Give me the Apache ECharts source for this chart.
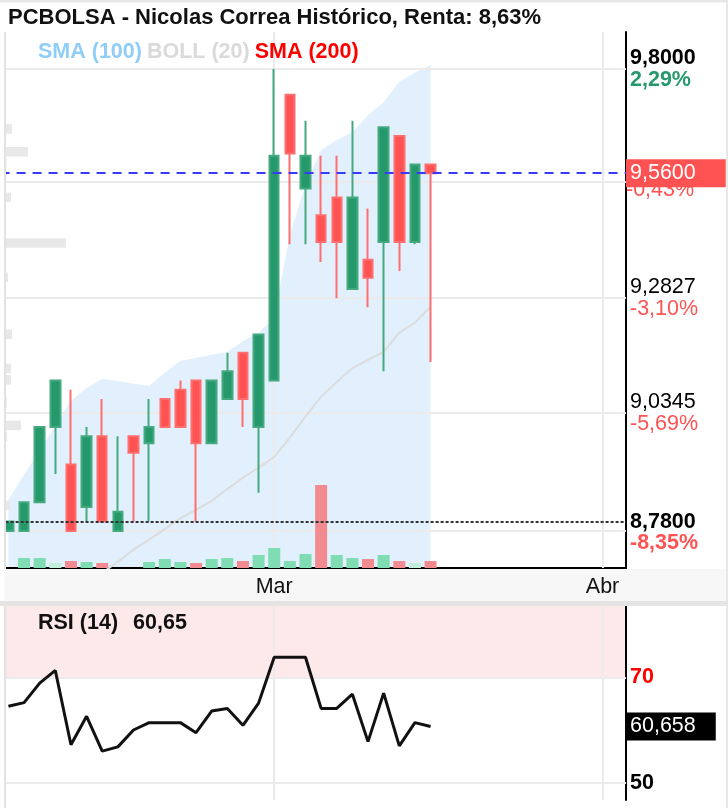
<!DOCTYPE html>
<html><head><meta charset="utf-8">
<script src="https://cdn.jsdelivr.net/npm/echarts@6/dist/echarts.min.js"></script>
<style>html,body{margin:0;padding:0;background:#fff}#c{width:728px;height:808px}</style>
</head><body><div id="c"></div>
<script>
// ---------- data ----------
const dates = ['02-07','02-08','02-09','02-12','02-13','02-14','02-15','02-16','02-19','02-20','02-21','02-22','02-23','02-26','02-27','02-28','02-29',
  '03-01','03-04','03-05','03-06','03-07','03-08','03-11','03-12','03-13','03-14','03-15','03-18','03-19','03-20','03-21','03-22','03-25','03-26','03-27','03-28','03-29',
  '04-01','04-02'];
const monthNames = {'02':'Feb','03':'Mar','04':'Abr'};
// [open, close, low, high]
const candles = [
  [8.78, 8.80, 8.78, 8.80],
  [8.78, 8.84, 8.78, 8.84],
  [8.84, 9.00, 8.84, 9.00],
  [9.00, 9.10, 8.90, 9.10],
  [8.92, 8.78, 8.78, 9.08],
  [8.83, 8.98, 8.80, 9.00],
  [8.98, 8.80, 8.80, 9.06],
  [8.78, 8.82, 8.78, 8.98],
  [8.98, 8.945, 8.80, 8.98],
  [8.965, 9.00, 8.80, 9.06],
  [9.06, 9.00, 9.00, 9.06],
  [9.08, 9.00, 9.00, 9.10],
  [9.10, 8.965, 8.80, 9.10],
  [8.965, 9.10, 8.965, 9.10],
  [9.06, 9.12, 9.06, 9.16],
  [9.16, 9.06, 9.00, 9.16],
  [9.00, 9.20, 8.86, 9.20],
  [9.10, 9.60, 9.10, 9.80],
  [9.74, 9.605, 9.40, 9.74],
  [9.525, 9.60, 9.40, 9.68],
  [9.465, 9.405, 9.36, 9.60],
  [9.505, 9.405, 9.28, 9.60],
  [9.30, 9.505, 9.30, 9.68],
  [9.365, 9.325, 9.26, 9.48],
  [9.405, 9.665, 9.12, 9.665],
  [9.645, 9.405, 9.34, 9.645],
  [9.405, 9.58, 9.40, 9.58],
  [9.58, 9.56, 9.14, 9.58]
];
const volumes    = [0,10,10,5,7,6,5,0,0,6,9,6,5,9,10,7,13,20,7,14,83,13,10,9,13,7,5,7];
const volumeTone = ['g','g','g','p','r','g','r','g','g','g','g','g','r','g','g','r','g','g','g','g','r','g','g','r','g','r','p','r'];
const sma100 = [8.845,8.898,8.951,9.002,9.056,9.084,9.104,9.099,9.093,9.088,9.117,9.143,9.149,9.156,9.162,9.186,9.204,9.237,9.421,9.533,9.613,9.636,9.654,9.693,9.723,9.770,9.791,9.809];
const boll20 = [null,null,null,null,null,null,8.693,8.716,8.741,8.762,8.784,8.807,8.824,8.843,8.868,8.892,8.913,8.936,8.977,9.022,9.065,9.097,9.127,9.145,9.162,9.204,9.226,9.261];
const rsi14 = [64.5,65.2,68.9,71.3,57.2,62.6,56.0,56.8,60.0,61.4,61.4,61.4,59.5,63.6,64.1,60.9,65.1,73.8,73.8,73.8,64.1,64.1,66.8,57.8,67.0,57.0,61.4,60.658];
// volume-at-price profile (top bin = highest price)
const profile = [0,0,0,0,0,0,0,0,7,0,23,1.5,1.5,0,6,0,0,0,61,0,0,3,0,0,0,0,7,0,0,6,6,0,2,0,16,2,0,0,0,0,0,5,0,0,0,0,0];
const priceTicks   = [9.8, 9.537, 9.2827, 9.0345, 8.78];
const priceTickPct = ['2,29%', null, '-3,10%', '-5,69%', null];
const lastPrice = 9.56, lastPct = '-0,43%';
const minPrice = 8.78, minPct = '-8,35%';
const supportLevel = 8.80;
const rsiLevels = [70, 50];
const rsiLast = 60.658;

// ---------- styles ----------
const FONT = "'Liberation Sans', Arial, sans-serif";
const FS = 21.5;
const GREEN = '#26996c', RED = '#ff5252';
const toneColor = {g:'#7fdcb3', p:'#c2eedc', r:'#f28b8f'};
const fmt4 = v => v.toFixed(4).replace('.', ',');
const fmt3 = v => v.toFixed(3).replace('.', ',');
const fmt2 = v => (Math.floor(v*100)/100).toFixed(2).replace('.', ',');
const rs = (o) => Object.assign({fontFamily: FONT, fontSize: FS, lineHeight: FS}, o);
const RICH = {
  vb: rs({fontWeight:'bold', color:'#000'}),
  v:  rs({color:'#000'}),
  pg: rs({fontWeight:'bold', color:GREEN}),
  pr: rs({color:RED}),
  prb: rs({fontWeight:'bold', color:RED}),
  box: rs({color:'#fff', backgroundColor:RED, padding:[3,30,3,4], lineHeight:22}),
  ps: rs({color:RED, lineHeight:12}),
  r70: rs({fontWeight:'bold', color:'#ff0000'}),
  k50: rs({fontWeight:'bold', color:'#000'}),
  kbox: rs({color:'#fff', backgroundColor:'#000', padding:[3,20,3,4], lineHeight:23})
};
const isMonthStart = (i) => i > 0 && dates[i].slice(0,2) !== dates[i-1].slice(0,2);
const monthStarts = dates.filter((d,i) => isMonthStart(i));
const GRIDC = '#ebebeb';

const gridLines = priceTicks.map((v,i) => ({
  yAxis: v,
  label: priceTickPct[i] ? {
    show: true, position: 'end', distance: 4, rich: RICH,
    formatter: () => (i === 0 ? '{vb|' : '{v|') + fmt4(v) + '}\n' + (i === 0 ? '{pg|' : '{pr|') + priceTickPct[i] + '}'
  } : {show:false}
})).concat(monthStarts.map(d => ({xAxis: d, label:{show:false}})));

const chart = echarts.init(document.getElementById('c'), null, {renderer:'canvas'});
chart.setOption({
  animation: false,
  backgroundColor: '#fff',
  textStyle: {fontFamily: FONT},
  title: [
    {text: 'PCBOLSA - Nicolas Correa Histórico, Renta: 8,63%', left: 8, top: 7, padding: 0,
     textStyle: {fontFamily: FONT, fontSize: 22, fontWeight: 'bold', color: '#111'}},
    {text: '{a|SMA (100)} {b|BOLL (20)} {c|SMA (200)}', left: 38, top: 41, padding: 0,
     textStyle: {rich: {a: rs({fontWeight:'bold', color:'#90cdf9'}), b: rs({fontWeight:'bold', color:'#dadada'}), c: rs({fontWeight:'bold', color:'#ff0000'})}}},
    {text: '{a|RSI (14)}   {a|' + fmt2(rsiLast) + '}', left: 38, top: 612, padding: 0,
     textStyle: {rich: {a: rs({fontWeight:'bold', color:'#111'})}}}
  ],
  graphic: [
    {type:'rect', z:-1, shape:{x:0, y:569, width:728, height:32}, style:{fill:'#f7f7f7'}},
    {type:'rect', z:100, shape:{x:0, y:30, width:4.5, height:778}, style:{fill:'#fff'}},
    {type:'rect', z:100, shape:{x:4, y:32, width:2, height:537}, style:{fill:'#e2e2e2'}},
    {type:'rect', z:100, shape:{x:4, y:606, width:2, height:202}, style:{fill:'#e2e2e2'}},
    {type:'rect', z:100, shape:{x:0, y:0, width:728, height:2.5}, style:{fill:'#e8e8e8'}},
    {type:'rect', z:100, shape:{x:726, y:0, width:2, height:808}, style:{fill:'#e8e8e8'}},
    {type:'rect', z:100, shape:{x:0, y:601, width:728, height:5}, style:{fill:'#e4e4e4'}}
  ],
  grid: [
    {left: 0.6, right: 102, top: 32, bottom: 240},
    {left: 0.6, right: 102, top: 606, bottom: 8},
    {left: 5, right: 102, top: 32, bottom: 240}
  ],
  xAxis: [
    {type:'category', gridIndex:0, data:dates, boundaryGap:true,
     axisLine:{lineStyle:{color:'#000', width:2}}, axisTick:{show:false}, splitLine:{show:false},
     axisLabel:{interval: (i) => isMonthStart(i), formatter: (v) => monthNames[v.slice(0,2)],
                fontFamily: FONT, fontSize: FS, color:'#111', margin: 8}},
    {type:'category', gridIndex:1, data:dates, boundaryGap:true, show:false},
    {type:'value', gridIndex:2, min:0, max:621, show:false}
  ],
  yAxis: [
    {type:'log', gridIndex:0, position:'right', min:8.703, max:9.8866,
     axisLine:{show:true, lineStyle:{color:'#000', width:2}}, axisTick:{show:false}, axisLabel:{show:false}, splitLine:{show:false}},
    {type:'value', gridIndex:0, min:0, max:536, show:false},
    {type:'value', gridIndex:1, position:'right', min:46.72, max:83.53,
     axisLine:{show:true, lineStyle:{color:'#000', width:2}}, axisTick:{show:false}, axisLabel:{show:false}, splitLine:{show:false}},
    {type:'category', gridIndex:2, data: profile.map((p,i) => 'bin' + i), inverse:true, show:false}
  ],
  series: [
    {name:'profile', type:'bar', xAxisIndex:2, yAxisIndex:3, data: profile, barWidth: 9.5, silent:true, z:0,
     itemStyle:{color:'#e8e8e8'}},
    {name:'SMA (100)', type:'line', xAxisIndex:0, yAxisIndex:0, data: sma100, symbol:'none', silent:true, z:0,
     lineStyle:{width:0}, areaStyle:{color:'#e1f0fc', opacity:1, origin:'start'}},
    {name:'BOLL (20)', type:'line', xAxisIndex:0, yAxisIndex:0, data: boll20, symbol:'none', silent:true, z:2,
     lineStyle:{color:'#dcdcdc', width:2},
     markLine:{silent:true, symbol:['none','none'], z:1, animation:false,
       lineStyle:{color:GRIDC, width:2, type:'solid'}, data: gridLines}},
    {name:'vol', type:'bar', xAxisIndex:0, yAxisIndex:1, barWidth: 12, silent:true, z:2,
     data: volumes.map((v,i) => ({value: v, itemStyle:{color: toneColor[volumeTone[i]]}}))},
    {name:'price', type:'candlestick', xAxisIndex:0, yAxisIndex:0, data: candles, barWidth: 10, z:3, silent:true,
     itemStyle:{color:GREEN, color0:RED, borderColor:'#45a97f', borderColor0:'#ff6e6e', borderWidth:2},
     markLine:{silent:true, symbol:['none','none'], z:5, animation:false,
       data:[
         {yAxis: lastPrice, lineStyle:{color:'#3a3aff', width:2, type:[9,7]},
          label:{show:true, position:'end', distance:0, padding:[12,0,0,0], rich:RICH,
                 formatter: () => '{box|' + fmt4(lastPrice) + '}\n{ps|' + lastPct + '}'}},
         {yAxis: supportLevel, lineStyle:{color:'#333', width:2, type:[3,2]},
          label:{show:true, position:'end', distance:4, padding:[22,0,0,0], rich:RICH,
                 formatter: () => '{vb|' + fmt4(minPrice) + '}\n{prb|' + minPct + '}'}}
       ]}},
    {name:'RSI (14)', type:'line', xAxisIndex:1, yAxisIndex:2, data: rsi14, symbol:'none', silent:true, z:3,
     lineStyle:{color:'#111', width:3},
     markArea:{silent:true, z:0, itemStyle:{color:'#fde9ea'}, data:[[{yAxis:rsiLevels[0]}, {yAxis:83.53}]]},
     markLine:{silent:true, symbol:['none','none'], z:1, animation:false,
       lineStyle:{color:GRIDC, width:2, type:'solid'},
       data: [
         {yAxis: rsiLevels[0], label:{show:true, position:'end', distance:4, rich:RICH, formatter: () => '{r70|' + rsiLevels[0] + '}'}},
         {yAxis: rsiLevels[1], label:{show:true, position:'end', distance:4, rich:RICH, formatter: () => '{k50|' + rsiLevels[1] + '}'}},
         {yAxis: rsiLast, lineStyle:{color:'rgba(0,0,0,0)', width:0},
          label:{show:true, position:'end', distance:0, rich:RICH, formatter: () => '{kbox|' + fmt3(rsiLast) + '}'}}
       ].concat(monthStarts.map(d => ({xAxis:d, label:{show:false}})))}}
  ]
});
</script></body></html>
